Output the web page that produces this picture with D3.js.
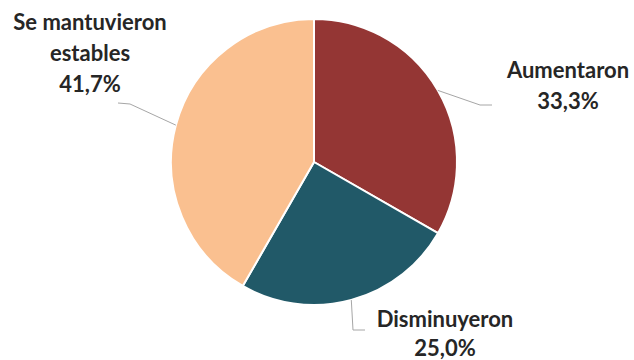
<!DOCTYPE html>
<html>
<head>
<meta charset="utf-8">
<script src="https://cdn.jsdelivr.net/npm/d3@7"></script>
<style>
  body { margin: 0; background: #fff; }
  text { font-family: Lato, "Open Sans", sans-serif; font-weight: bold; fill: #262626; }
</style>
</head>
<body>
<div id="chart"></div>
<script>
// chart data
var categories = ["Aumentaron", "Disminuyeron", "Se mantuvieron estables"];
var values = [33.3, 25.0, 41.7];
var valueLabels = ["33,3%", "25,0%", "41,7%"];
var colors = ["#943634", "#215968", "#FAC090"];

var w = 634, h = 360;
var cx = 314, cy = 162, r = 143;

var svg = d3.select("#chart").append("svg")
    .attr("width", w)
    .attr("height", h);

var g = svg.append("g")
    .attr("transform", "translate(" + cx + "," + cy + ")");

var pie = d3.pie().sort(null).value(function(d) { return d; });
var arcs = pie(values);

var arc = d3.arc().innerRadius(0).outerRadius(r);
var edge = d3.arc().innerRadius(r).outerRadius(r);

g.selectAll("path.slice")
    .data(arcs)
    .enter()
    .append("path")
    .attr("class", "slice")
    .attr("d", arc)
    .attr("fill", function(d, i) { return colors[i]; })
    .attr("stroke", "#fff")
    .attr("stroke-width", 2);

// label placement (relative to pie centre): text centre x, first baseline y, line gap
var labelSpots = [
    { x: 254, y: -84, gap: 31, lines: ["Aumentaron"] },
    { x: 131, y: 165, gap: 29, lines: ["Disminuyeron"] },
    { x: -224, y: -132, gap: 31, lines: ["Se mantuvieron", "estables"] }
];
// leader bends (relative to pie centre)
var leaders = [
    [[166, -57], [178, -57]],
    [[39, 168], [51, 168]],
    [[-184, -58], [-196, -59]]
];

arcs.forEach(function(d, i) {
    var p0 = edge.centroid(d);
    var pts = [p0].concat(leaders[i]);
    g.append("path")
        .attr("d", d3.line()(pts))
        .attr("fill", "none")
        .attr("stroke", "#a6a6a6")
        .attr("stroke-width", 1);

    var s = labelSpots[i];
    var t = g.append("text")
        .attr("text-anchor", "middle")
        .attr("font-size", "22px");
    s.lines.concat([valueLabels[i]]).forEach(function(line, j) {
        t.append("tspan")
            .attr("x", s.x)
            .attr("y", s.y + j * s.gap)
            .text(line);
    });
});
</script>
</body>
</html>
